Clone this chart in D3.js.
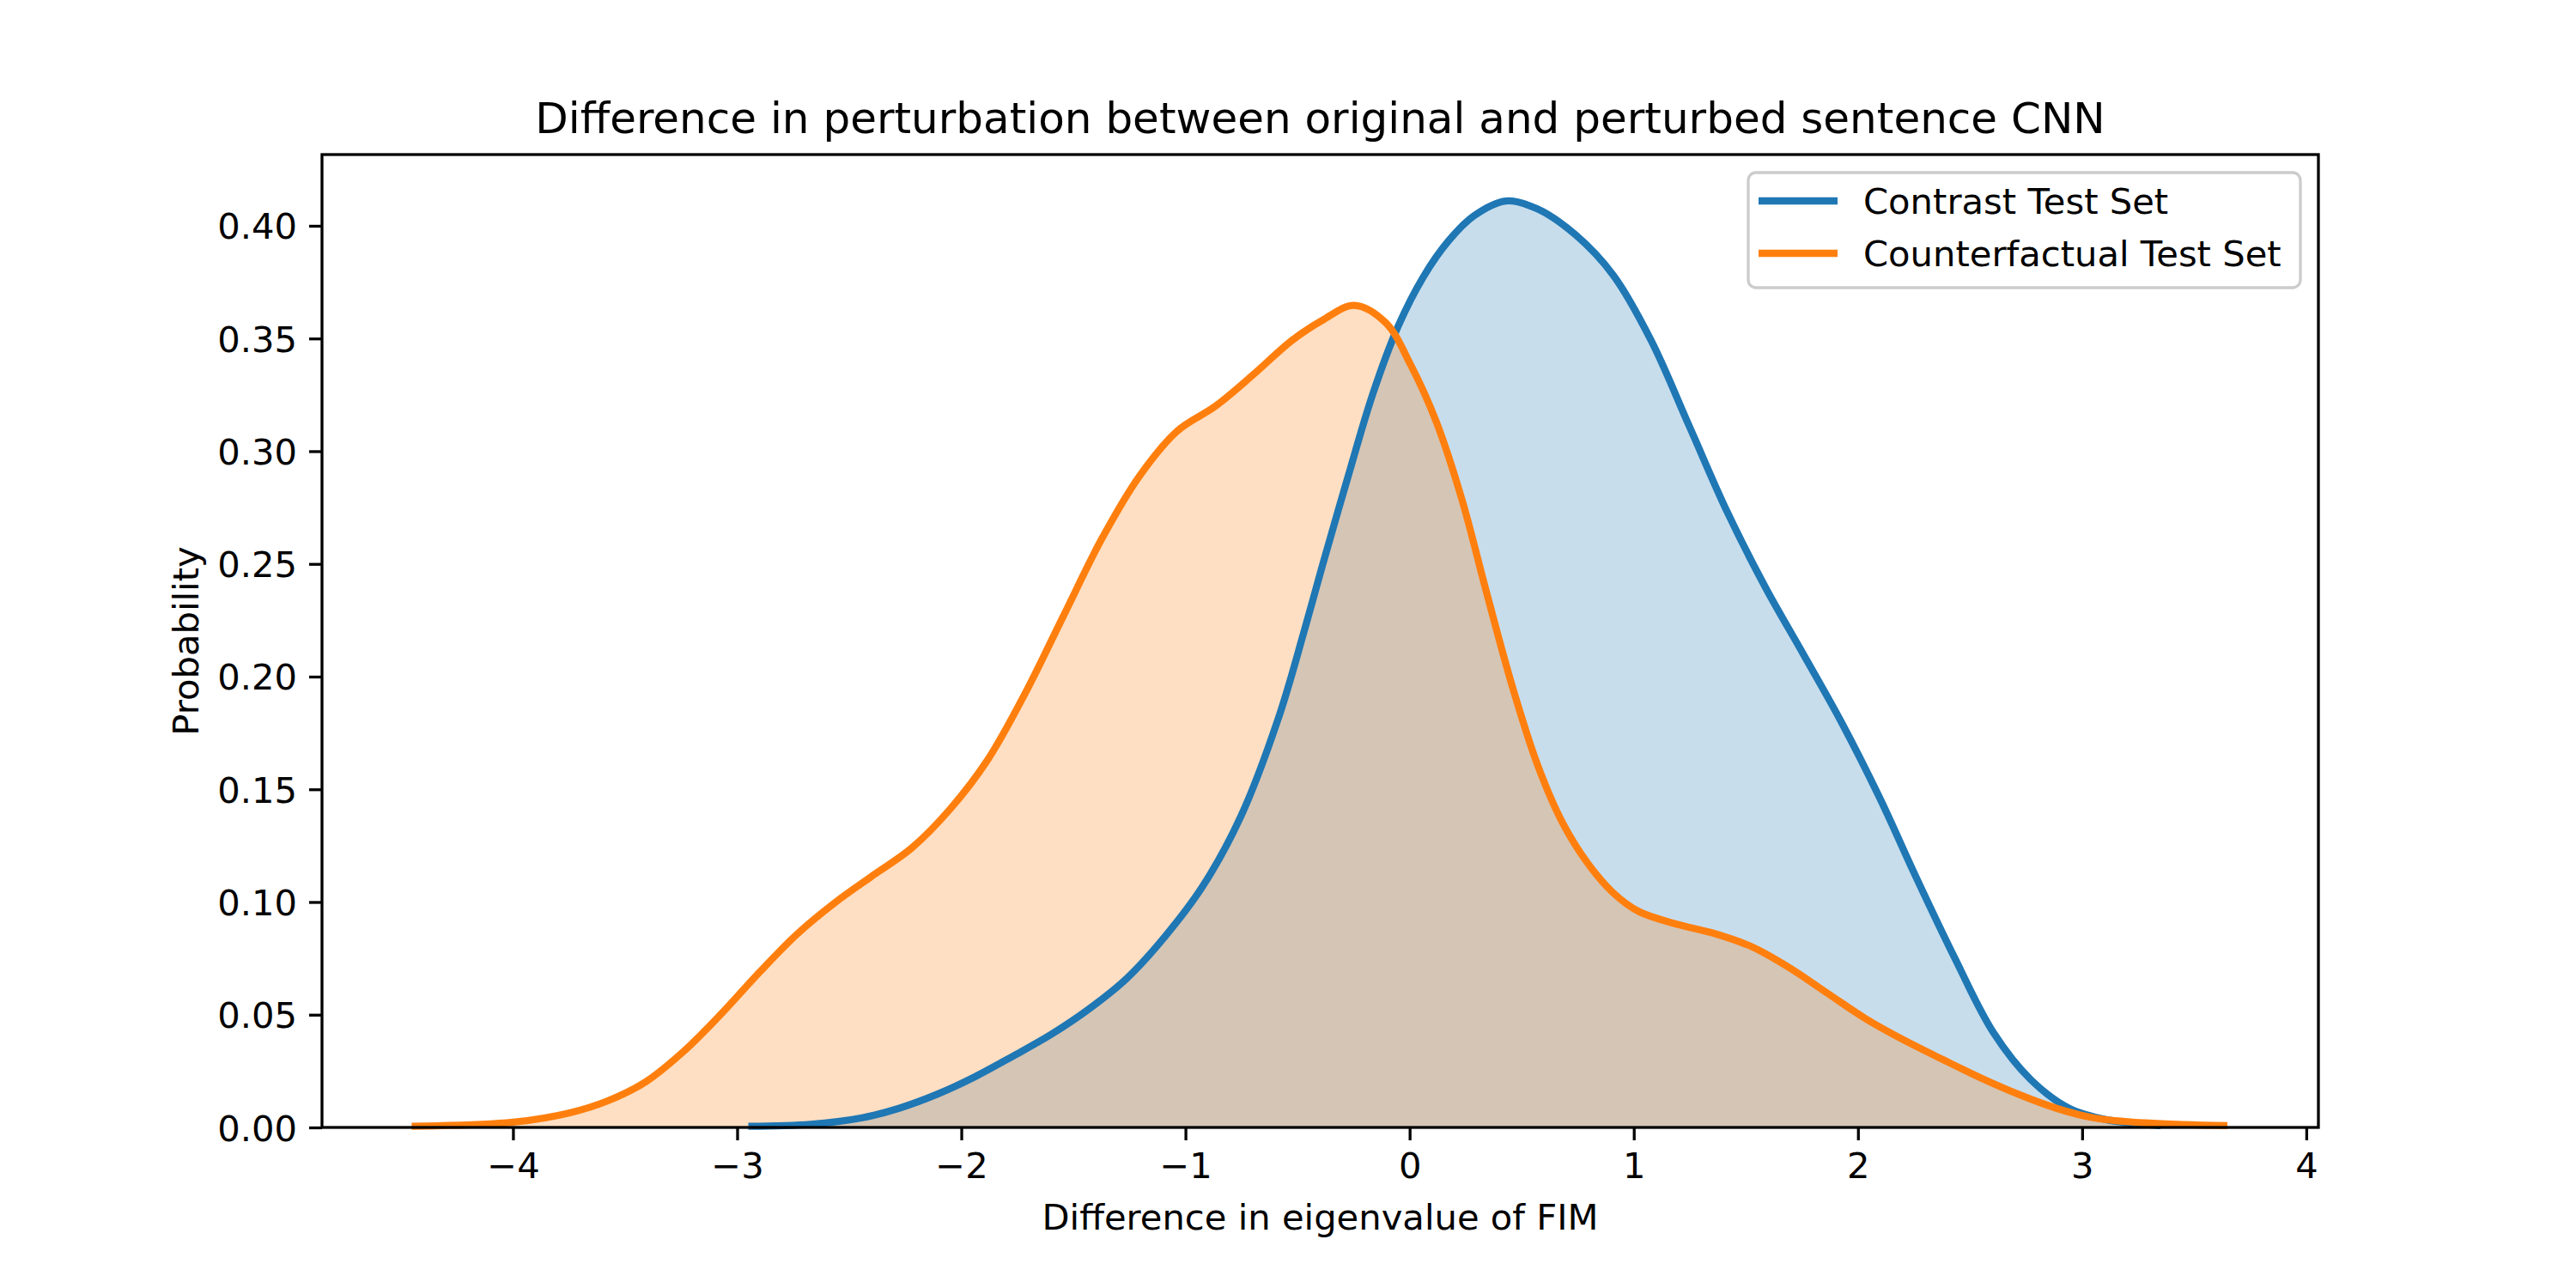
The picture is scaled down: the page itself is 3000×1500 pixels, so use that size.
<!DOCTYPE html>
<html>
<head>
<meta charset="utf-8">
<script src="https://cdn.jsdelivr.net/npm/d3@7"></script>
<style>
  body { margin: 0; background: #fff; }
  text { font-family: "DejaVu Sans", sans-serif; fill: #000; }
</style>
</head>
<body>
<script>
var w = 3000;
var h = 1500;
var margin = {left: 375, right: 300, top: 180, bottom: 187};

// kde curves: [x, density]
var contrast = [
    [-2.95,0.0005],[-2.673,0.0014],[-2.447,0.0042],[-2.278,0.0085],[-2.108,0.0147],
    [-1.939,0.0225],[-1.770,0.0316],[-1.600,0.0412],[-1.431,0.0525],[-1.261,0.0662],
    [-1.092,0.0846],[-0.923,0.107],[-0.753,0.138],[-0.584,0.182],[-0.471,0.220],
    [-0.39,0.249],[-0.277,0.288],[-0.164,0.3255],[-0.051,0.3555],[0.062,0.3775],
    [0.175,0.3935],[0.288,0.4045],[0.429,0.411],[0.570,0.4075],[0.740,0.396],
    [0.909,0.378],[1.078,0.349],[1.248,0.311],[1.417,0.273],[1.587,0.2396],
    [1.756,0.210],[1.925,0.180],[2.095,0.1466],[2.264,0.110],[2.434,0.0747],
    [2.603,0.0423],[2.772,0.0211],[2.942,0.0085],[3.111,0.0034],[3.281,0.0014],[3.35,0.0008]
];
var counterfactual = [
    [-4.452,0.0005],[-4.0,0.0023],[-3.746,0.0065],[-3.577,0.0118],[-3.407,0.0203],
    [-3.238,0.0338],[-3.068,0.0507],[-2.899,0.069],[-2.73,0.086],[-2.56,0.100],
    [-2.391,0.112],[-2.221,0.124],[-2.052,0.141],[-1.883,0.163],[-1.713,0.193],
    [-1.544,0.227],[-1.374,0.261],[-1.205,0.289],[-1.036,0.309],[-0.866,0.320],
    [-0.697,0.334],[-0.527,0.349],[-0.39,0.358],[-0.248,0.3647],[-0.107,0.357],
    [0.006,0.338],[0.119,0.313],[0.232,0.279],[0.344,0.237],[0.457,0.196],
    [0.570,0.161],[0.683,0.135],[0.796,0.117],[0.909,0.104],[1.022,0.0958],
    [1.191,0.0902],[1.361,0.086],[1.530,0.080],[1.700,0.0705],[1.869,0.0592],
    [2.038,0.048],[2.208,0.0386],[2.377,0.0302],[2.547,0.022],[2.716,0.0147],
    [2.885,0.0085],[3.055,0.0042],[3.281,0.002],[3.648,0.0008]
];
var seriesNames = ["Contrast Test Set", "Counterfactual Test Set"];
var seriesColors = ["#1f77b4", "#ff7f0e"];
var xTicks = [-4, -3, -2, -1, 0, 1, 2, 3, 4];
var yTicks = [0, 0.05, 0.10, 0.15, 0.20, 0.25, 0.30, 0.35, 0.40];

var series = [contrast, counterfactual];

var xScale = d3.scaleLinear()
    .domain([-4.852, 4.054])
    .range([margin.left, w - margin.right]);

var yScale = d3.scaleLinear()
    .domain([0, 0.4316])
    .range([h - margin.bottom, margin.top]);

var svg = d3.select("body")
    .append("svg")
    .attr("width", w)
    .attr("height", h);

svg.append("rect").attr("width", w).attr("height", h).attr("fill", "#fff");

var curve = d3.curveCatmullRom.alpha(0.5);

var area = d3.area()
    .x(function(d) { return xScale(d[0]); })
    .y0(yScale(0))
    .y1(function(d) { return yScale(d[1]); })
    .curve(curve);

var line = d3.line()
    .x(function(d) { return xScale(d[0]); })
    .y(function(d) { return yScale(d[1]); })
    .curve(curve);

// fills go under both lines
svg.selectAll("path.fill")
    .data(series)
    .enter()
    .append("path")
    .attr("class", "fill")
    .attr("d", area)
    .attr("fill", function(d, i) { return seriesColors[i]; })
    .attr("fill-opacity", 0.25);

svg.selectAll("path.kde")
    .data(series)
    .enter()
    .append("path")
    .attr("class", "kde")
    .attr("d", line)
    .attr("fill", "none")
    .attr("stroke", function(d, i) { return seriesColors[i]; })
    .attr("stroke-width", 8.3)
    .attr("stroke-linejoin", "round");

// axes
var xAxis = d3.axisBottom(xScale)
    .tickValues(xTicks)
    .tickFormat(d3.format("d"))
    .tickSize(15)
    .tickPadding(12);

var yAxis = d3.axisLeft(yScale)
    .tickValues(yTicks)
    .tickFormat(d3.format(".2f"))
    .tickSize(15)
    .tickPadding(14);

var gx = svg.append("g")
    .attr("transform", "translate(0," + yScale(0) + ")")
    .call(xAxis);
var gy = svg.append("g")
    .attr("transform", "translate(" + margin.left + ",0)")
    .call(yAxis);

[gx, gy].forEach(function(g) {
    g.select(".domain").remove();
    g.selectAll(".tick line").attr("stroke", "#000").attr("stroke-width", 3.3);
    g.selectAll(".tick text")
        .attr("font-family", "DejaVu Sans")
        .attr("font-size", 41.7)
        .attr("fill", "#000");
});
gy.selectAll(".tick text").attr("dy", "0.36em");
gx.selectAll(".tick text").attr("dy", "0.76em");

// frame
svg.append("rect")
    .attr("x", margin.left)
    .attr("y", margin.top)
    .attr("width", w - margin.left - margin.right)
    .attr("height", h - margin.top - margin.bottom)
    .attr("fill", "none")
    .attr("stroke", "#000")
    .attr("stroke-width", 3.3);

// titles
svg.append("text")
    .attr("x", (margin.left + w - margin.right) / 2)
    .attr("y", 155)
    .attr("text-anchor", "middle")
    .attr("font-size", 50)
    .text("Difference in perturbation between original and perturbed sentence CNN");

svg.append("text")
    .attr("x", (margin.left + w - margin.right) / 2)
    .attr("y", 1432)
    .attr("text-anchor", "middle")
    .attr("font-size", 41.7)
    .text("Difference in eigenvalue of FIM");

svg.append("text")
    .attr("transform", "translate(231," + ((margin.top + h - margin.bottom) / 2) + ") rotate(-90)")
    .attr("text-anchor", "middle")
    .attr("font-size", 41.7)
    .text("Probability");

// legend
var legend = svg.append("g");
legend.append("rect")
    .attr("x", 2036)
    .attr("y", 201)
    .attr("width", 643)
    .attr("height", 134)
    .attr("rx", 9)
    .attr("fill", "#fff")
    .attr("fill-opacity", 0.8)
    .attr("stroke", "#cccccc")
    .attr("stroke-width", 3.3);

var items = legend.selectAll("g.item")
    .data(seriesNames)
    .enter()
    .append("g")
    .attr("transform", function(d, i) { return "translate(0," + (234 + i * 61) + ")"; });

items.append("line")
    .attr("x1", 2048).attr("x2", 2140)
    .attr("stroke", function(d, i) { return seriesColors[i]; })
    .attr("stroke-width", 8.3);

items.append("text")
    .attr("x", 2170)
    .attr("dy", "0.36em")
    .attr("font-size", 41.7)
    .text(function(d) { return d; });
</script>
</body>
</html>
